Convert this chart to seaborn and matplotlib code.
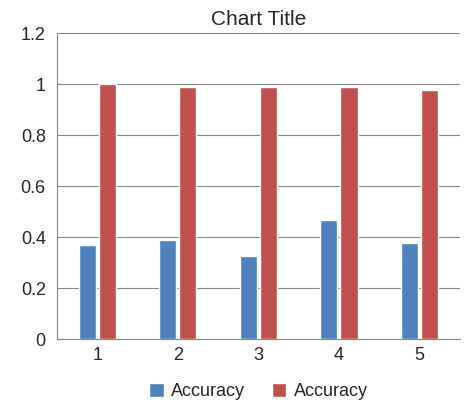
import matplotlib
matplotlib.use("Agg")
import matplotlib.pyplot as plt
import seaborn as sns
import pandas as pd

categories = ["1", "2", "3", "4", "5"]
series1 = [0.368, 0.388, 0.325, 0.467, 0.378]
series2 = [1.0, 0.988, 0.988, 0.988, 0.976]
series_names = ["Accuracy", "Accuracy "]
yticks = [0, 0.2, 0.4, 0.6, 0.8, 1, 1.2]
ytick_labels = ["0", "0.2", "0.4", "0.6", "0.8", "1", "1.2"]

df = pd.DataFrame({
    "cat": categories * 2,
    "val": series1 + series2,
    "series": [series_names[0]] * 5 + [series_names[1]] * 5,
})

sns.set_style("white")
plt.rcParams["font.family"] = ["Liberation Sans", "DejaVu Sans"]

fig = plt.figure(figsize=(4.74, 4.13), dpi=100)
ax = fig.add_axes([0.12, 0.179, 0.85, 0.741])
sns.barplot(data=df, x="cat", y="val", hue="series", order=categories,
            palette=["#4F81BD", "#C0504D"], width=0.5, saturation=1,
            gap=0.15, ax=ax, legend=True)
ax.set_ylim(0, 1.2)
ax.set_yticks(yticks)
ax.set_yticklabels(ytick_labels, fontsize=13)
ax.tick_params(axis="x", labelsize=13, length=0, pad=6)
ax.tick_params(axis="y", length=0, pad=8)
ax.yaxis.grid(True, color="#868686", linewidth=0.8)
ax.set_axisbelow(True)
for s in ["top", "right"]:
    ax.spines[s].set_visible(False)
for s in ["left", "bottom"]:
    ax.spines[s].set_color("#868686")
ax.set_xlabel("")
ax.set_ylabel("")
ax.set_title("Chart Title", fontsize=15, pad=6)
handles, _ = ax.get_legend_handles_labels()
ax.legend(handles, ["Accuracy", "Accuracy"], loc="upper center",
          bbox_to_anchor=(0.5, -0.09), ncol=2, frameon=False, fontsize=13,
          handlelength=0.8, handleheight=0.8, columnspacing=1.5, handletextpad=0.4)
fig.savefig("out.png", dpi=100)
